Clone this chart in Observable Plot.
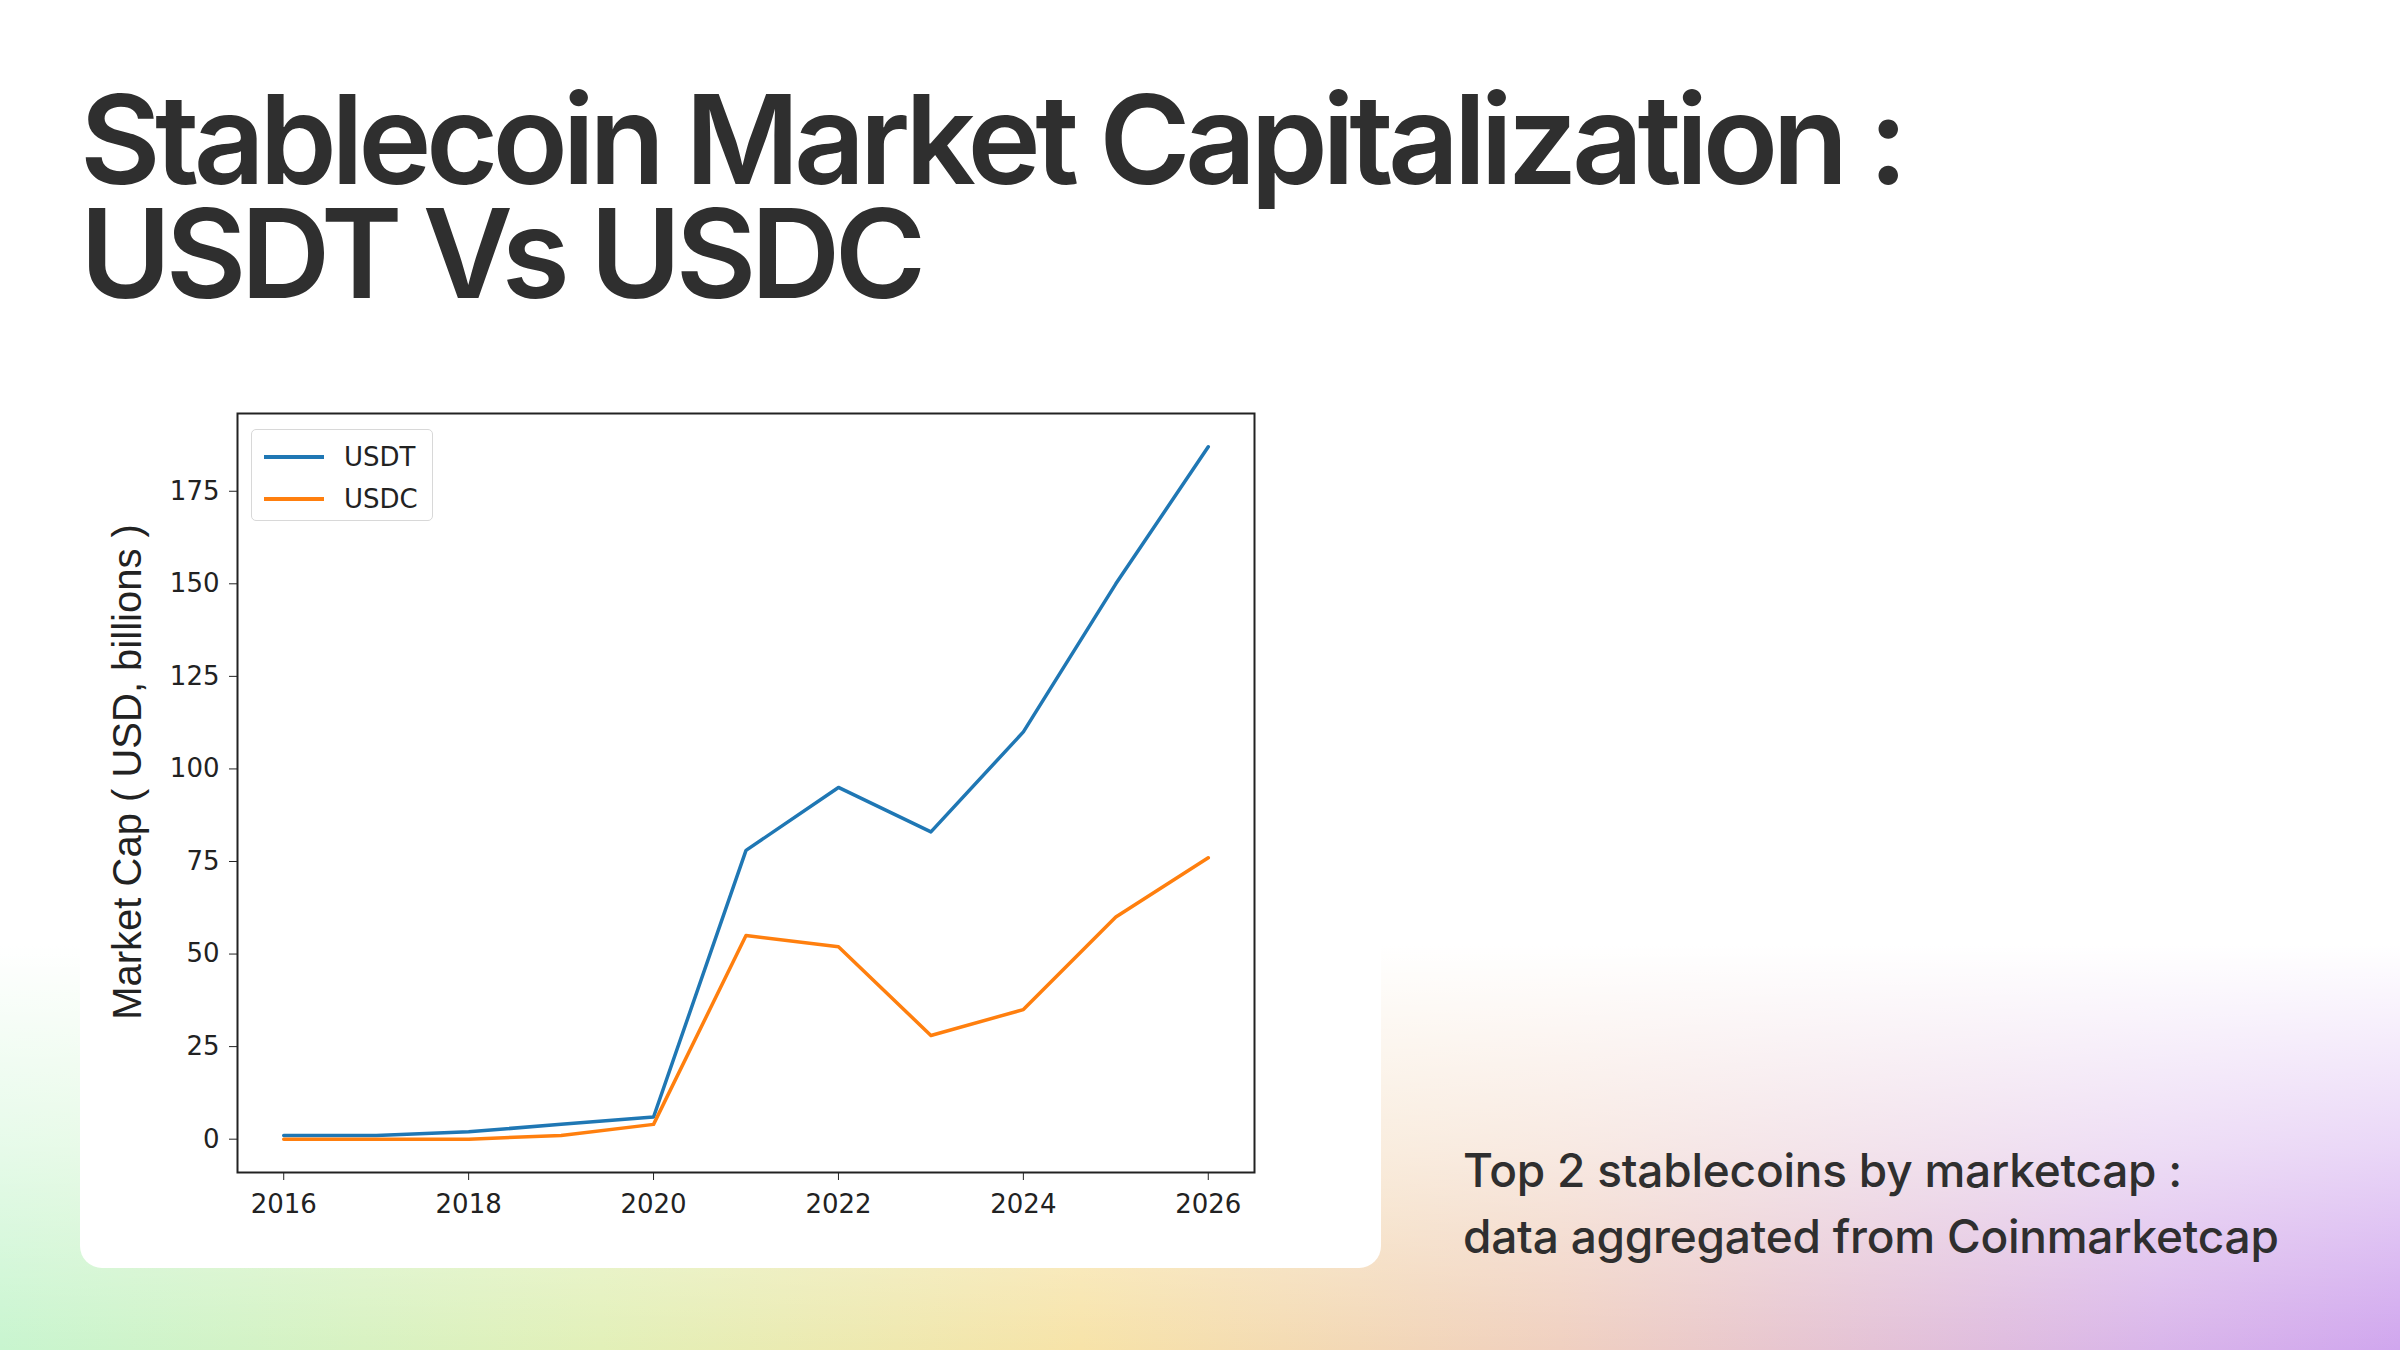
<!DOCTYPE html>
<html><head><meta charset="utf-8">
<script src="https://cdn.jsdelivr.net/npm/d3@7"></script>
<script src="https://cdn.jsdelivr.net/npm/@observablehq/plot@0.6"></script>
<style>
html,body{margin:0;padding:0}
#page{position:relative;width:2400px;height:1350px;overflow:hidden;background:#fff;font-family:Inter,sans-serif;color:#2f2f2f}
#bg{position:absolute;inset:0;background:linear-gradient(90deg,#c8f5cf 0%,#e2f0b8 25%,#f7e3a8 45%,#f0d0c0 65%,#d9b5ea 90%,#d0a6ee 100%)}
#fade{position:absolute;inset:0;background:linear-gradient(180deg,#fff 0%,#fff 70%,rgba(255,255,255,0.55) 85%,rgba(255,255,255,0) 100%)}
.t{position:absolute;left:80px;font-size:124px;font-weight:600;letter-spacing:-0.045em;line-height:100px;color:#2f2f2f;white-space:nowrap}
#card{position:absolute;left:80px;top:370px;width:1301px;height:898px;background:#fff;border-radius:22px}
#chart{position:absolute;left:80px;top:382px}
#ylab{position:absolute;left:127px;top:772px;transform:translate(-50%,-50%) rotate(-90deg);font-size:40px;white-space:nowrap;color:#222;font-family:"Liberation Sans",sans-serif}
#legend{position:absolute;left:251px;top:429px;width:180px;height:90px;border:1.5px solid #d8d8d8;border-radius:5px;background:#fff;font-family:"DejaVu Sans";font-size:26px;color:#222}
.li{position:absolute;left:12px;display:flex;align-items:center}
.li span{display:inline-block;width:60px;height:3.5px;margin-right:20px}
#cap{position:absolute;left:1463px;top:1137px;font-size:46px;font-weight:500;line-height:66px;color:#2f2f2f;letter-spacing:-0.005em}
</style></head><body>
<div id="page"><div id="bg"></div><div id="fade"></div>
<div class="t" style="top:89px">Stablecoin Market Capitalization :</div>
<div class="t" style="top:203px">USDT Vs USDC</div>
<div id="card"></div>
<div id="chart"></div>
<div id="ylab">Market Cap ( USD, billions )</div>
<div id="legend"><div class="li" style="top:12px"><span style="background:#1f77b4"></span>USDT</div><div class="li" style="top:54px"><span style="background:#ff7f0e"></span>USDC</div></div>
<div id="cap">Top 2 stablecoins by marketcap :<br>data aggregated from Coinmarketcap</div>
</div>
<script>
const years=[2016,2017,2018,2019,2020,2021,2022,2023,2024,2025,2026];
const usdt=[1,1,2,4,6,78,95,83,110,150,187];
const usdc=[0,0,0,1,4,55,52,28,35,60,76];
const xTicks=[2016,2018,2020,2022,2024,2026];
const yTicks=[0,25,50,75,100,125,150,175];
const rows=[...years.map((y,i)=>({year:y,v:usdt[i],s:"USDT"})),...years.map((y,i)=>({year:y,v:usdc[i],s:"USDC"}))];
const chart=Plot.plot({
  width:1300,height:886,marginLeft:157,marginRight:126,marginTop:31,marginBottom:96,
  style:{fontFamily:"DejaVu Sans",fontSize:"26px",color:"#222",background:"transparent"},
  x:{domain:[2015.5,2026.5],label:null},
  y:{domain:[-9,196],label:null},
  color:{domain:["USDT","USDC"],range:["#1f77b4","#ff7f0e"]},
  marks:[
    Plot.axisX({ticks:xTicks,tickFormat:d=>String(d),tickSize:8,tickPadding:14,label:null}),
    Plot.axisY({ticks:yTicks,tickSize:8,tickPadding:10,label:null}),
    Plot.line(rows,{x:"year",y:"v",z:"s",stroke:"s",strokeWidth:3.5}),
    Plot.frame({stroke:"#222",strokeWidth:2})
  ]
});
document.getElementById("chart").appendChild(chart);
</script></body></html>
